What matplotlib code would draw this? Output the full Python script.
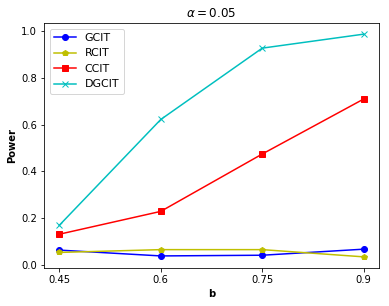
import matplotlib
matplotlib.use('Agg')
import matplotlib.pyplot as plt

b = [0.45, 0.6, 0.75, 0.9]
gcit = [0.062, 0.037, 0.040, 0.066]
rcit = [0.052, 0.064, 0.064, 0.033]
ccit = [0.130, 0.228, 0.474, 0.710]
dgcit = [0.168, 0.622, 0.928, 0.988]

fig = plt.figure(figsize=(389 / 72, 306 / 72), dpi=72)
ax = fig.add_axes([44 / 389, 1 - 268 / 306, (379 - 44) / 389, (268 - 23) / 306])

ax.plot(b, gcit, 'b-o', label='GCIT')
ax.plot(b, rcit, 'y-p', label='RCIT')
ax.plot(b, ccit, 'r-s', label='CCIT')
ax.plot(b, dgcit, 'c-x', label='DGCIT')

ax.set_xticks(b)
ax.set_xticklabels(['0.45', '0.6', '0.75', '0.9'])
ax.set_xlabel('b', fontweight='bold')
ax.set_ylabel('Power', fontweight='bold')
ax.set_title(r'$\alpha=0.05$')
ax.legend(loc='upper left', fontsize=11)

fig.savefig('out.png', dpi=72)
